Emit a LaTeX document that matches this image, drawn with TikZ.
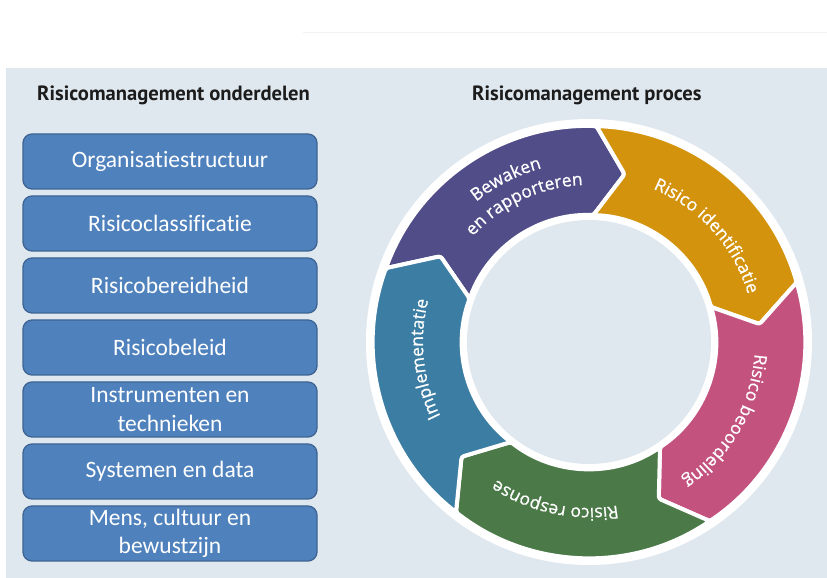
\documentclass[tikz,border=0pt]{standalone}
\usepackage{fontspec}
\setmainfont{Carlito}[Ligatures=NoCommon]
\newfontfamily\headfont{PT Sans}
\newfontfamily\ringfont[FakeBold=0.8]{Open Sans}
\usetikzlibrary{decorations.text}

\definecolor{panel}{HTML}{E0E8EF}
\definecolor{boxblue}{HTML}{4F81BD}
\definecolor{boxedge}{HTML}{3E6494}
\definecolor{headtext}{HTML}{1C1C1C}
\definecolor{segpurple}{HTML}{504D88}
\definecolor{segorange}{HTML}{D4930D}
\definecolor{segpink}{HTML}{C4527F}
\definecolor{seggreen}{HTML}{4B7A48}
\definecolor{segteal}{HTML}{3C7DA3}

\tikzset{
  partbox/.style={draw=boxedge, line width=1.3pt, fill=boxblue, rounded corners=9pt,
    minimum width=294pt, minimum height=55pt, inner sep=2pt, align=center,
    text=white, font=\fontsize{23.5}{28.5}\selectfont},
  headtxt/.style={anchor=west, inner sep=0pt, text=headtext,
    font=\headfont\bfseries\fontsize{20.6}{20.6}\selectfont},
  segment/.style={fill=#1, draw=white, line width=4pt, line join=round, rounded corners=2.5pt},
  ringlabel/.style={decorate, decoration={text along path, text align=center,
    text={|\ringfont\fontsize{17.5}{17.5}\selectfont\color{white}|#1}}}
}

\begin{document}
\begin{tikzpicture}[x=1pt,y=1pt]
\useasboundingbox (0,0) rectangle (827,578);
\fill[white] (0,0) rectangle (827,578);
\draw[black!5, line width=0.6pt] (303,546) -- (827,546);
\fill[panel] (6,0) rectangle (827,510);

% column headings
\node[headtxt] (h1) at (37,483) {Risicomanagement onderdelen};
\node[headtxt] (h2) at (472,483) {Risicomanagement proces};

% components of risk management
\node[partbox] (b1) at (170,416.5) {Organisatiestructuur};
\node[partbox] (b2) at (170,354.5) {Risicoclassificatie};
\node[partbox] (b3) at (170,292.5) {Risicobereidheid};
\node[partbox] (b4) at (170,230.5) {Risicobeleid};
\node[partbox] (b5) at (170,168.5) {Instrumenten en\\technieken};
\node[partbox] (b6) at (170,106.5) {Systemen en data};
\node[partbox] (b7) at (170,44.5) {Mens, cultuur en\\bewustzijn};

% process cycle
\coordinate (C) at (589,236);
\fill[white] (C) circle (223pt);
\foreach \ts/\col in {160/segpurple, 88/segorange, 16/segpink, -56/seggreen, -128/segteal}{
  \filldraw[segment=\col]
    ([shift={(\ts:216pt)}]C) arc[start angle=\ts, end angle=\ts-72, radius=216pt]
    -- ([shift={(\ts-82:171.5pt)}]C)
    -- ([shift={(\ts-72:127pt)}]C) arc[start angle=\ts-72, end angle=\ts, radius=127pt]
    -- ([shift={(\ts-10:171.5pt)}]C) -- cycle;
}
\fill[panel] (C) circle (122pt);

% labels along the ring, read clockwise
\path[ringlabel={Bewaken}] ([shift={(177:180pt)}]C) arc[start angle=177, end angle=57, radius=180pt];
\path[ringlabel={en rapporteren}] ([shift={(175:157pt)}]C) arc[start angle=175, end angle=55, radius=157pt];
\path[ringlabel={Risico identificatie}] ([shift={(102:166pt)}]C) arc[start angle=102, end angle=-18, radius=166pt];
\path[ringlabel={Risico beoordeling}] ([shift={(30:166pt)}]C) arc[start angle=30, end angle=-90, radius=166pt];
\path[ringlabel={Risico response}] ([shift={(-42:166pt)}]C) arc[start angle=-42, end angle=-162, radius=166pt];
\path[ringlabel={Implementatie}] ([shift={(246:166pt)}]C) arc[start angle=246, end angle=126, radius=166pt];
\end{tikzpicture}
\end{document}
